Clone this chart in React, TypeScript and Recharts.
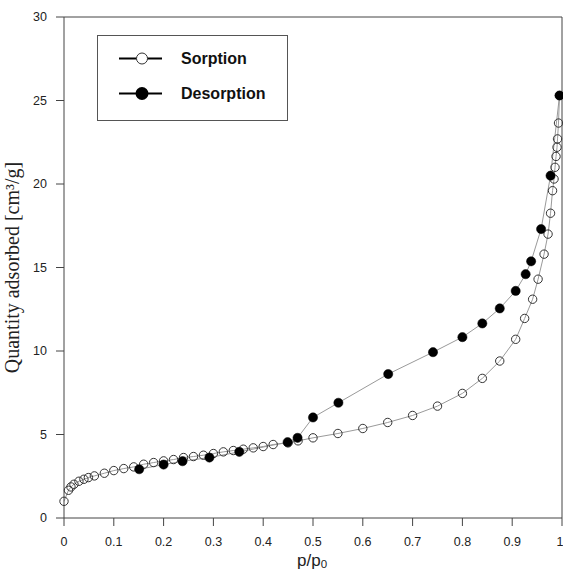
import { ComposedChart, Line, XAxis, YAxis, ReferenceLine } from 'recharts';

// sorption branch (open circles)
const sorpP = [
  0, 0.009, 0.014, 0.02, 0.03, 0.04, 0.049, 0.061, 0.081, 0.1, 0.12, 0.14, 0.16, 0.18, 0.2,
  0.22, 0.24, 0.26, 0.28, 0.3, 0.32, 0.34, 0.36, 0.38, 0.4, 0.42, 0.45, 0.47, 0.5, 0.55, 0.6,
  0.65, 0.7, 0.75, 0.8, 0.84, 0.875, 0.907, 0.925, 0.941, 0.952, 0.964, 0.972, 0.977, 0.981,
  0.984, 0.986, 0.988, 0.99, 0.991, 0.993, 0.995,
];
const sorpQ = [
  1.0, 1.66, 1.86, 2.02, 2.2, 2.32, 2.42, 2.52, 2.68, 2.84, 2.96, 3.06, 3.22, 3.32, 3.42,
  3.5, 3.62, 3.68, 3.76, 3.86, 3.96, 4.04, 4.12, 4.2, 4.28, 4.4, 4.5, 4.62, 4.8, 5.06, 5.36,
  5.72, 6.14, 6.7, 7.46, 8.36, 9.4, 10.7, 11.95, 13.1, 14.3, 15.8, 17.0, 18.25, 19.6,
  20.3, 21.0, 21.65, 22.2, 22.7, 23.65, 25.3,
];

// desorption branch (filled circles)
const desP = [
  0.995, 0.977, 0.958, 0.938, 0.927, 0.907, 0.875, 0.84, 0.8, 0.741, 0.651, 0.551, 0.5,
  0.469, 0.449, 0.352, 0.292, 0.238, 0.2, 0.151,
];
const desQ = [
  25.3, 20.5, 17.3, 15.37, 14.6, 13.6, 12.55, 11.65, 10.83, 9.93, 8.62, 6.9, 6.02,
  4.8, 4.54, 3.96, 3.62, 3.4, 3.2, 2.92,
];

const xTicks = [0, 0.1, 0.2, 0.3, 0.4, 0.5, 0.6, 0.7, 0.8, 0.9, 1];
const yTicks = [0, 5, 10, 15, 20, 25, 30];

const sorption = sorpP.map((p, i) => ({ p, q: sorpQ[i] }));
const desorption = desP.map((p, i) => ({ p, q: desQ[i] }));

const axisColor = '#444';
const sans = '"Liberation Sans", Arial, sans-serif';

const OpenDot = (props: any) => {
  const { cx, cy } = props;
  if (cx == null || cy == null) return null;
  return <circle cx={cx} cy={cy} r={4.2} fill="none" stroke="#333" strokeWidth={1} />;
};

const FilledDot = (props: any) => {
  const { cx, cy } = props;
  if (cx == null || cy == null) return null;
  return <circle cx={cx} cy={cy} r={4.6} fill="#000" stroke="#000" strokeWidth={0.5} />;
};

const XTitle = (props: any) => {
  const vb = props.viewBox;
  const cx = vb.x + vb.width / 2;
  return (
    <text x={cx - 16} y={566} fontFamily={sans} fontSize={17} fill="#222">
      p/p
      <tspan fontSize={11.5} dy={2}>0</tspan>
    </text>
  );
};

const YTitle = (props: any) => {
  const vb = props.viewBox;
  const cy = vb.y + vb.height / 2;
  return (
    <text
      x={19}
      y={cy}
      transform={`rotate(-90, 19, ${cy})`}
      textAnchor="middle"
      fontFamily='"Liberation Serif", "Times New Roman", serif'
      fontSize={20}
      fill="#222"
    >
      Quantity adsorbed [cm³/g]
    </text>
  );
};

function LegendBox() {
  return (
    <div
      style={{
        position: 'absolute',
        left: 97,
        top: 35,
        width: 189,
        height: 84,
        border: '1px solid #555',
        background: '#fff',
      }}
    >
      <svg width={189} height={84} style={{ position: 'absolute', left: 0, top: 0 }}>
        <line x1={21} x2={64} y1={22.5} y2={22.5} stroke="#000" strokeWidth={2} />
        <circle cx={44} cy={22.5} r={5.5} fill="#fff" stroke="#333" strokeWidth={1} />
        <line x1={21} x2={64} y1={57.5} y2={57.5} stroke="#000" strokeWidth={2} />
        <circle cx={44} cy={57.5} r={6.5} fill="#000" />
        <text x={83} y={28} fontFamily={sans} fontWeight="bold" fontSize={16} fill="#111">Sorption</text>
        <text x={83} y={63} fontFamily={sans} fontWeight="bold" fontSize={16} fill="#111">Desorption</text>
      </svg>
    </div>
  );
}

export default function App() {
  return (
    <div style={{ position: 'absolute', left: 0, top: 0, width: 563, height: 572, background: '#fff' }}>
      <ComposedChart width={563} height={572} margin={{ top: 17, right: 1, bottom: 0, left: 0 }}>
        <XAxis
          dataKey="p"
          type="number"
          domain={[0, 1]}
          ticks={xTicks}
          tickFormatter={(v: number) => String(v)}
          allowDuplicatedCategory={false}
          height={54}
          tickSize={8}
          tickMargin={11}
          stroke={axisColor}
          tick={{ fill: '#222', fontSize: 12.5, fontFamily: sans }}
          label={<XTitle />}
        />
        <YAxis
          type="number"
          domain={[0, 30]}
          ticks={yTicks}
          width={64}
          tickSize={8}
          tickMargin={9}
          stroke={axisColor}
          tick={{ fill: '#222', fontSize: 12.5, fontFamily: sans }}
          label={<YTitle />}
        />
        <ReferenceLine y={30} stroke={axisColor} strokeWidth={1} />
        <ReferenceLine x={1} stroke={axisColor} strokeWidth={1} />
        <Line
          data={sorption}
          dataKey="q"
          type="linear"
          stroke="#9a9a9a"
          strokeWidth={1}
          dot={<OpenDot />}
          activeDot={false}
          isAnimationActive={false}
        />
        <Line
          data={desorption}
          dataKey="q"
          type="linear"
          stroke="#9a9a9a"
          strokeWidth={1}
          dot={<FilledDot />}
          activeDot={false}
          isAnimationActive={false}
        />
      </ComposedChart>
      <LegendBox />
    </div>
  );
}
